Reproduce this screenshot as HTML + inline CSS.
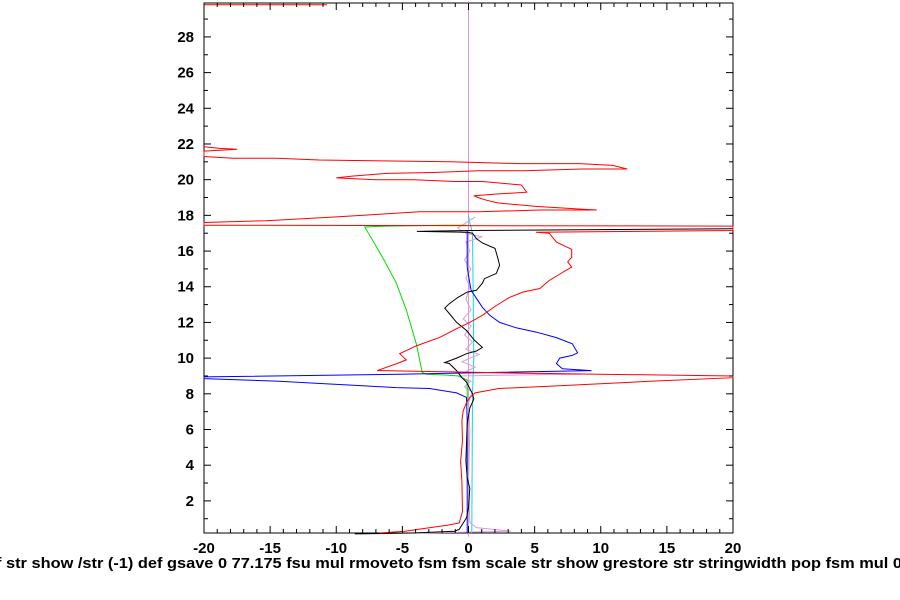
<!DOCTYPE html>
<html><head><meta charset="utf-8"><style>
html,body{margin:0;padding:0;background:#fff;width:900px;height:600px;overflow:hidden}
svg text{font-family:"Liberation Sans",sans-serif;font-weight:bold;font-size:15px;fill:#000}
</style></head><body>
<svg id="chart" width="900" height="600" xmlns="http://www.w3.org/2000/svg"></svg>
<script>
const xTicks=[-20,-15,-10,-5,0,5,10,15,20];
const yTicks=[2,4,6,8,10,12,14,16,18,20,22,24,26,28];
const redX=[-6.7,-4.8,-2.9,-1.5,-0.7,-0.45,-0.5,-0.6,-0.45,-0.5,-0.4,-0.15,0.1,0.5,2.3,6.9,13.7,20,20,9.9,0.8,-6.9,-5.4,-4.7,-5.2,-3.9,-2.2,-0.9,0.1,1.05,2.1,3.1,4.1,5.4,6.1,7.1,7.8,7.5,7.8,7.8,6.65,6.1,5.1,20,20,-20,-20,-15.3,-10.3,-7,-3.7,0.8,5.4,9.7,8.5,5.1,2.2,1.35,0.7,0.4,2.3,4.4,4.0,3.25,1.05,-1.05,-4.1,-7,-10,-8.8,-6.2,-2.7,0.8,4.2,8.6,12,10.9,8.4,3.9,-1.4,-6.5,-11.3,-14.5,-17.8,-20,-20,-18.8,-17.5,-18.8,-20,null,-20,-10.7];
const redY=[0.2,0.3,0.5,0.65,0.76,1.4,3.1,4.2,5.4,6.5,7.05,7.5,7.8,8.05,8.3,8.45,8.7,8.9,9.0,9.1,9.2,9.3,9.7,9.9,10.25,10.7,11.15,11.65,12.0,12.4,12.95,13.4,13.7,13.9,14.35,14.8,15.1,15.4,15.65,16.1,16.5,17.0,17.05,17.15,17.4,17.45,17.6,17.7,17.9,18.05,18.2,18.2,18.3,18.3,18.35,18.5,18.7,18.85,19.0,19.1,19.2,19.3,19.7,19.75,19.9,19.9,20.0,20.0,20.1,20.2,20.35,20.4,20.5,20.5,20.6,20.6,20.8,20.9,20.9,21.0,21.05,21.1,21.2,21.2,21.3,21.6,21.65,21.7,21.75,21.85,null,29.8,29.8];
const blackX=[-8.6,-4.2,-1.05,-0.7,-0.15,0,0.1,-0.1,-0.2,-0.15,-0.1,0.1,0.4,0.3,-0.15,-0.5,-0.9,-1.45,-1.8,-0.9,-0.15,0.6,1.05,0.45,-0.15,-0.9,-1.45,-1.8,-1.45,-0.8,-0.1,0.6,1.05,1.2,2.1,2.35,2.2,2.0,1.05,0.6,0.3,-0.1,-3.9,0.1,9.9,20];
const blackY=[0.15,0.2,0.3,0.4,1.05,1.6,2.7,3.3,4.25,5.2,6.3,7.2,7.7,8.0,8.65,8.9,9.3,9.7,9.75,10.0,10.25,10.4,10.6,11.0,11.55,12.0,12.5,12.8,13.05,13.4,13.7,13.8,14.2,14.45,14.75,15.2,15.65,16.15,16.45,16.7,17.0,17.05,17.1,17.15,17.2,17.25];
const blueX=[-0.1,-0.1,-0.15,-0.9,-2.95,-5.45,-8.0,-10.5,-14.3,-20,-20,-5.2,9.3,7.1,6.65,6.9,7.85,8.25,7.85,6.65,5.15,3.6,2.35,1.6,1.05,0.6,0.2,0.1,-0.1,-0.1];
const blueY=[0.2,6.5,7.8,8.05,8.3,8.35,8.45,8.55,8.7,8.85,8.95,9.1,9.3,9.4,9.7,10.0,10.15,10.3,10.8,11.15,11.45,11.7,12.0,12.4,12.85,13.35,13.8,14.2,15.1,17.15];
const greenX=[-0.1,-0.1,-0.7,-1.65,-3.2,-3.5,-3.95,-4.7,-5.45,-6.5,-7.25,-7.85,-6.2,-1.65,-0.15];
const greenY=[7.35,8.75,9.0,9.05,9.1,9.2,10.8,12.7,14.2,15.65,16.6,17.35,17.4,17.45,17.45];
const cyanX=[0.25,0.3,0.4,0.35,0.3,0.1,0];
const cyanY=[0.2,8,10,14,17,17.6,18];
const plumX=[-4,0,3.2,0.6,0.1,0,0.1,0,0.3,-0.3,0.2,-0.5,-0.8,3,8.5,3,-0.3,0.5,-0.5,0.8,-0.2,0.3,-0.3,0.2,-0.4,0.2,-0.2,0.1,-0.2,0.2,-0.3,0.1,-0.2,1,-0.5,-0.8,0.5];
const plumY=[0.2,0.25,0.3,0.5,0.8,3,6,7.5,8.1,8.4,8.7,8.9,9.0,9.05,9.1,9.15,9.2,9.5,9.8,10.2,10.5,10.9,11.3,11.8,12.2,12.7,13.3,14,14.5,15,15.5,16,16.5,16.8,17.05,17.3,17.9];
const refLineX=[0,0];
const refLineY=[0,30];

const L=204,R=733,T=3,B=533;
const xMin=-20,xMax=20,yMin=0.2,yMax=29.9;
const sx=v=>L+(v-xMin)/(xMax-xMin)*(R-L);
const sy=v=>B-(v-yMin)/(yMax-yMin)*(B-T);
const svg=document.getElementById('chart');
const NS='http://www.w3.org/2000/svg';
function mk(tag,attrs){const e=document.createElementNS(NS,tag);for(const k in attrs)e.setAttribute(k,attrs[k]);svg.appendChild(e);return e;}

const frame=mk('rect',{x:L,y:T,width:R-L,height:B-T,fill:'none',stroke:'#000','stroke-width':1});



function series(xs,ys,color,name){
  let d='',pen=false;
  for(let i=0;i<xs.length;i++){
    if(xs[i]===null){pen=false;continue;}
    d+=(pen?'L':'M')+sx(xs[i]).toFixed(1)+' '+sy(ys[i]).toFixed(1);
    pen=true;
  }
  const p=mk('path',{d:d,fill:'none',stroke:color,'stroke-width':1});
  
  
}
series(refLineX,refLineY,'#dd99dd','zero-reference-line');
series(cyanX,cyanY,'#00e0e0','cyan-series');
series(plumX,plumY,'#dd99dd','violet-series');
series(greenX,greenY,'#00dd00','green-series');
series(blueX,blueY,'#0000ff','blue-series');
series(blackX,blackY,'#000000','black-series');
series(redX,redY,'#ff0000','red-series');

for(let v=xMin;v<=xMax;v++){
  const major=v%5===0, len=major?7:4;
  const t=mk('line',{x1:sx(v),x2:sx(v),y1:B,y2:B-len,stroke:'#000'});
  
  
  const t2=mk('line',{x1:sx(v),x2:sx(v),y1:T,y2:T+len,stroke:'#000'});
  
  
}
xTicks.forEach(v=>{
  const tx=mk('text',{x:sx(v),y:553,'text-anchor':'middle'});
  tx.textContent=String(v);
  
  
});
for(let v=1;v<=29;v++){
  const major=v%2===0, len=major?7:4;
  const t=mk('line',{x1:L,x2:L+len,y1:sy(v),y2:sy(v),stroke:'#000'});
  
  
  const t2=mk('line',{x1:R,x2:R-len,y1:sy(v),y2:sy(v),stroke:'#000'});
  
  
}
yTicks.forEach(v=>{
  const ty=mk('text',{x:194,y:sy(v)+5,'text-anchor':'end'});
  ty.textContent=String(v);
  
  
});
const cap=mk('text',{x:-4,y:568,'font-size':'16.5px',textLength:906,lengthAdjust:'spacingAndGlyphs'});
cap.textContent='f str show /str (-1) def gsave 0 77.175 fsu mul rmoveto fsm fsm scale str show grestore str stringwidth pop fsm mul 0';


</script>
</body></html>
